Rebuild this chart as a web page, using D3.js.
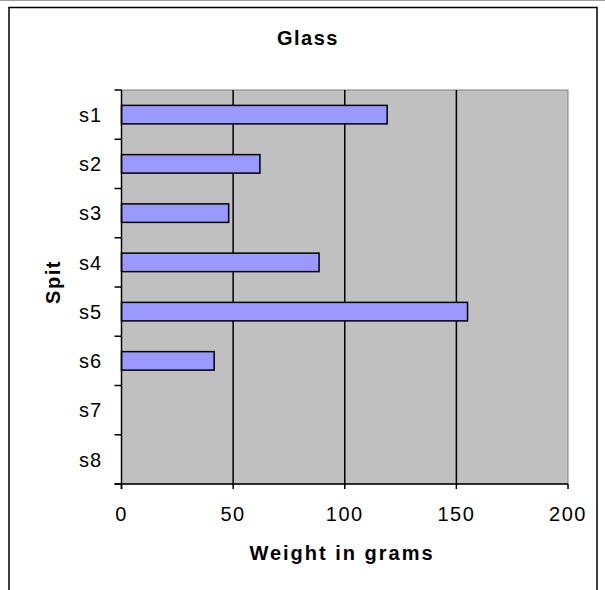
<!DOCTYPE html>
<html><head><meta charset="utf-8">
<script src="https://cdn.jsdelivr.net/npm/d3@7"></script>
<style>body{margin:0;background:#fff;}svg{display:block;font-family:"Liberation Sans",Arial,sans-serif;}</style>
</head><body><svg id="c" width="605" height="590"></svg>
<script>
const categories = ["s1","s2","s3","s4","s5","s6","s7","s8"];
const values = [119, 62, 48, 88.5, 155, 41.5, null, null];
const xTicks = [0, 50, 100, 150, 200];
const title = "Glass";
const xTitle = "Weight in grams";
const yTitle = "Spit";

const svg = d3.select("#c");
svg.append("line").attr("x1",0).attr("x2",605).attr("y1",0.5).attr("y2",0.5).attr("stroke","#a0a0a0").attr("stroke-width",1);
svg.append("rect").attr("x",9).attr("y",7.5).attr("width",588).attr("height",590).attr("fill","#fff").attr("stroke","#000").attr("stroke-width",1.5);

const L=121.5, R=568, T=90, B=484;
const x = d3.scaleLinear().domain([0,200]).range([L,R]);
const band = d3.scaleBand().domain(categories).range([T,B]);

svg.append("rect").attr("x",L).attr("y",T).attr("width",R-L).attr("height",B-T).attr("fill","#c0c0c0").attr("stroke","#808080").attr("stroke-width",1);

svg.append("g").selectAll("line").data(xTicks.filter(d=>d>0&&d<200)).join("line")
  .attr("x1",d=>x(d)).attr("x2",d=>x(d)).attr("y1",T).attr("y2",B).attr("stroke","#000").attr("stroke-width",1.5);

svg.append("g").selectAll("rect").data(categories.map((c,i)=>({c,v:values[i]})).filter(d=>d.v!=null)).join("rect")
  .attr("x",x(0)).attr("y",d=>band(d.c)+band.bandwidth()/2-9.25).attr("width",d=>x(d.v)-x(0)).attr("height",18.5)
  .attr("fill","#9999ff").attr("stroke","#000").attr("stroke-width",1.5);

// y axis
const yAxis = svg.append("g");
yAxis.append("line").attr("x1",L).attr("x2",L).attr("y1",T).attr("y2",B+5).attr("stroke","#000").attr("stroke-width",1.5);
const yTickPos = categories.map(c=>band(c)).concat([B]);
yAxis.selectAll("line.t").data(yTickPos).join("line").attr("class","t")
  .attr("x1",L-7).attr("x2",L).attr("y1",d=>d).attr("y2",d=>d).attr("stroke","#000").attr("stroke-width",1.5);
yAxis.selectAll("text").data(categories).join("text")
  .attr("x",102).attr("y",d=>band(d)+band.bandwidth()/2).attr("dy","0.36em").attr("text-anchor","end")
  .attr("font-size",20).attr("letter-spacing","1").text(d=>d);

// x axis
const xAxis = svg.append("g");
xAxis.append("line").attr("x1",L-7).attr("x2",R).attr("y1",B).attr("y2",B).attr("stroke","#000").attr("stroke-width",1.5);
xAxis.selectAll("line.t").data(xTicks).join("line").attr("class","t")
  .attr("x1",d=>x(d)).attr("x2",d=>x(d)).attr("y1",B).attr("y2",B+5).attr("stroke","#000").attr("stroke-width",1.5);
xAxis.selectAll("text").data(xTicks).join("text")
  .attr("x",d=>x(d)).attr("y",521).attr("text-anchor","middle").attr("font-size",20).attr("letter-spacing","1.5").text(d=>d);

svg.append("text").attr("x",308).attr("y",45).attr("text-anchor","middle").attr("font-size",20).attr("font-weight","bold").attr("letter-spacing","1.5").text(title);
svg.append("text").attr("x",342).attr("y",560).attr("text-anchor","middle").attr("font-size",20).attr("font-weight","bold").attr("letter-spacing","2").text(xTitle);
svg.append("text").attr("transform","translate(60,282) rotate(-90)").attr("text-anchor","middle").attr("font-size",20).attr("font-weight","bold").attr("letter-spacing","1.5").text(yTitle);
</script></body></html>
